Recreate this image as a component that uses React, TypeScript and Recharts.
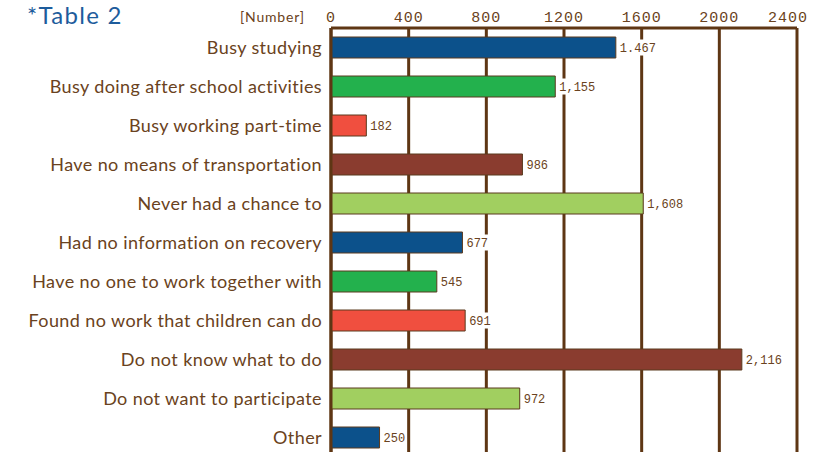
import { BarChart, Bar, XAxis, YAxis, CartesianGrid, Cell, LabelList } from 'recharts';

const categories = [
  'Busy studying',
  'Busy doing after school activities',
  'Busy working part-time',
  'Have no means of transportation',
  'Never had a chance to',
  'Had no information on recovery',
  'Have no one to work together with',
  'Found no work that children can do',
  'Do not know what to do',
  'Do not want to participate',
  'Other',
];
const counts = [1467, 1155, 182, 986, 1608, 677, 545, 691, 2116, 972, 250];
const countLabels = ['1.467', '1,155', '182', '986', '1,608', '677', '545', '691', '2,116', '972', '250'];
const xTicks = [0, 400, 800, 1200, 1600, 2000, 2400];
const palette = ['#0c518b', '#23b14d', '#f04f3f', '#8a3c2f', '#a1cf60'];

const BROWN = '#5e3614';
const TEXT = '#6a4220';
const MONO = '"Liberation Mono", monospace';

const data = categories.map((name, i) => ({ name, count: counts[i], label: countLabels[i] }));

// value label with a white box behind it, so grid lines are broken under the text
const ValueLabel = (props: any) => {
  const { x, y, width, height, value } = props;
  const s = String(value);
  const lx = x + width + 3;
  const cy = y + height / 2;
  const w = s.length * 7.2 + 2;
  return (
    <g>
      <rect x={lx} y={cy - 8} width={w} height={16} fill="#fff" />
      <text x={lx + 1} y={cy} dy="0.35em" fill={TEXT} fontSize={12} fontFamily={MONO}>
        {s}
      </text>
    </g>
  );
};

// top axis tick; last one pulled in a bit so it stays inside the page
const TopTick = (props: any) => {
  const { x, payload, index } = props;
  const shift = index === xTicks.length - 1 ? -9 : 0;
  return (
    <text
      x={x + shift}
      y={22}
      textAnchor="middle"
      fill={TEXT}
      fontSize={15}
      letterSpacing={1}
      fontFamily={MONO}
    >
      {payload.value}
    </text>
  );
};

export default function App() {
  return (
    <div style={{ position: 'absolute', left: 0, top: 0, width: 813, height: 452, overflow: 'hidden', background: '#fff' }}>
      <div
        style={{
          position: 'absolute',
          left: 27,
          top: 0,
          fontFamily: 'Lato, sans-serif',
          fontSize: 24,
          letterSpacing: 1.3,
          color: '#1d5c9c',
        }}
      >
        *Table 2
      </div>
      <div
        style={{
          position: 'absolute',
          left: 240,
          top: 8,
          fontFamily: 'Lato, sans-serif',
          fontSize: 14,
          letterSpacing: 0.8,
          color: TEXT,
        }}
      >
        [Number]
      </div>
      <BarChart
        width={813}
        height={457}
        data={data}
        layout="vertical"
        margin={{ top: 0, right: 16, left: 0, bottom: 0 }}
        barSize={21}
      >
        <CartesianGrid horizontal={false} stroke={BROWN} strokeWidth={3} />
        <XAxis
          type="number"
          orientation="top"
          domain={[0, 2400]}
          ticks={xTicks}
          height={28}
          tickLine={false}
          axisLine={{ stroke: BROWN, strokeWidth: 3 }}
          tick={<TopTick />}
        />
        <YAxis
          type="category"
          dataKey="name"
          width={331}
          tickLine={false}
          tickMargin={3}
          axisLine={{ stroke: BROWN, strokeWidth: 3 }}
          tick={{ fill: TEXT, fontSize: 18, letterSpacing: 0.4, fontFamily: 'Lato, sans-serif' }}
          interval={0}
        />
        <Bar dataKey="count" stroke="#5a3a1e" strokeWidth={1} isAnimationActive={false}>
          {data.map((d, i) => (
            <Cell key={d.name} fill={palette[i % palette.length]} />
          ))}
          <LabelList dataKey="label" content={ValueLabel} />
        </Bar>
      </BarChart>
    </div>
  );
}
